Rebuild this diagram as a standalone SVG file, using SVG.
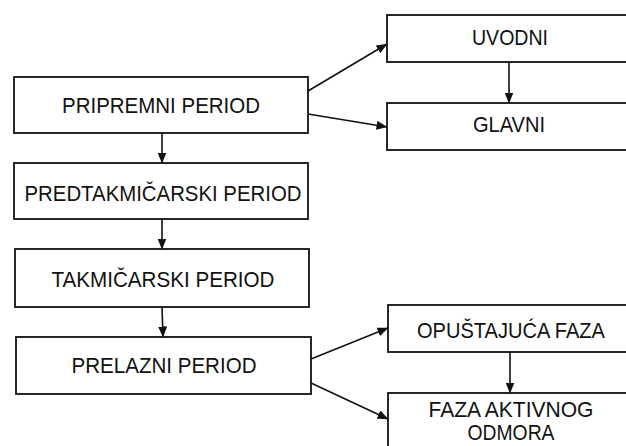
<svg xmlns="http://www.w3.org/2000/svg" width="626" height="446" viewBox="0 0 626 446">
<style>
.box{fill:#fff;stroke:#111;stroke-width:1.8}
.lbl{font-family:"Liberation Sans",Arial,sans-serif;font-size:22px;fill:#111;text-anchor:middle}
.con{stroke:#111;stroke-width:1.6;fill:none;marker-end:url(#ah)}
</style>
<defs>
<marker id="ah" markerUnits="userSpaceOnUse" markerWidth="11" markerHeight="9" refX="10.5" refY="4.5" orient="auto">
<path d="M0,0 L11,4.5 L0,9 z" fill="#111"/>
</marker>
</defs>
<rect width="626" height="446" fill="#fff"/>
<g id="connectors">
<line class="con" x1="162" y1="133" x2="162" y2="163"/>
<line class="con" x1="162" y1="219" x2="162" y2="249"/>
<line class="con" x1="162" y1="307" x2="163" y2="337"/>
<line class="con" x1="509" y1="62" x2="509" y2="103"/>
<line class="con" x1="510" y1="352" x2="510" y2="393"/>
<line class="con" x1="308" y1="91" x2="387" y2="44"/>
<line class="con" x1="308" y1="114" x2="387" y2="127"/>
<line class="con" x1="311" y1="359" x2="388" y2="328"/>
<line class="con" x1="311" y1="383" x2="388" y2="419"/>
</g>
<g id="pripremni">
<rect class="box" x="14" y="77" width="294" height="56"/>
<text class="lbl" x="161" y="113" textLength="198" lengthAdjust="spacingAndGlyphs">PRIPREMNI PERIOD</text>
</g>
<g id="predtakmicarski">
<rect class="box" x="14" y="163" width="294" height="56"/>
<text class="lbl" x="163" y="201" textLength="277" lengthAdjust="spacingAndGlyphs">PREDTAKMIČARSKI PERIOD</text>
</g>
<g id="takmicarski">
<rect class="box" x="15" y="249" width="294" height="58"/>
<text class="lbl" x="163" y="287" textLength="223" lengthAdjust="spacingAndGlyphs">TAKMIČARSKI PERIOD</text>
</g>
<g id="prelazni">
<rect class="box" x="16" y="337" width="295" height="57"/>
<text class="lbl" x="164" y="373" textLength="185" lengthAdjust="spacingAndGlyphs">PRELAZNI PERIOD</text>
</g>
<g id="uvodni">
<rect class="box" x="387" y="15" width="250" height="47"/>
<text class="lbl" x="510" y="45" textLength="76" lengthAdjust="spacingAndGlyphs">UVODNI</text>
</g>
<g id="glavni">
<rect class="box" x="387" y="103" width="250" height="47"/>
<text class="lbl" x="509" y="132" textLength="72" lengthAdjust="spacingAndGlyphs">GLAVNI</text>
</g>
<g id="opustajuca">
<rect class="box" x="388" y="305" width="250" height="47"/>
<text class="lbl" x="511" y="338" textLength="188" lengthAdjust="spacingAndGlyphs">OPUŠTAJUĆA FAZA</text>
</g>
<g id="aktivni-odmor">
<rect class="box" x="388" y="393" width="250" height="60"/>
<text class="lbl" x="511" y="417" textLength="165" lengthAdjust="spacingAndGlyphs">FAZA AKTIVNOG</text>
<text class="lbl" x="511" y="440" textLength="87" lengthAdjust="spacingAndGlyphs">ODMORA</text>
</g>
</svg>
